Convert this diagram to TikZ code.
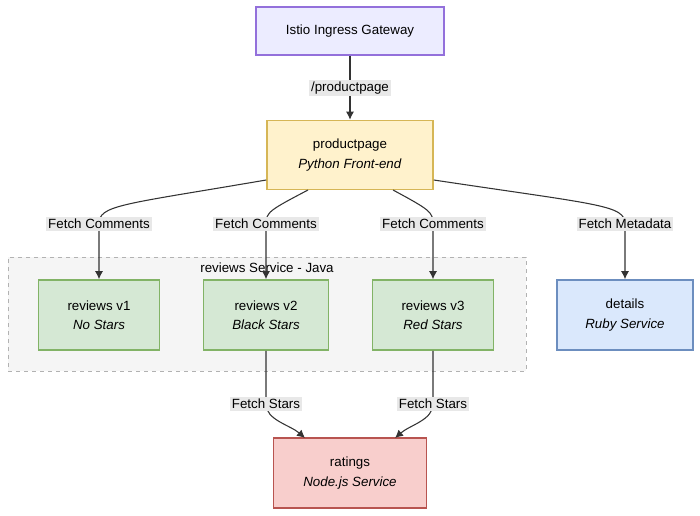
\documentclass[tikz,border=0pt]{standalone}
\usepackage{fontspec}
\setmainfont{Liberation Sans}
\begin{document}
\begin{tikzpicture}[x=0.75pt,y=-0.75pt,font=\fontsize{10}{11.5}\selectfont,
 box/.style={draw,line width=1.2pt,align=center,inner sep=0pt},
 lab/.style={fill=black!9,inner sep=1.5pt},
 edge/.style={draw=black!80,line width=0.8pt,-{Latex[length=6pt,width=6pt]}}]
\usetikzlibrary{arrows.meta}
\useasboundingbox (0,0) rectangle (700,515);
\definecolor{pur}{HTML}{9370DB}\definecolor{purf}{HTML}{ECECFF}
\definecolor{yel}{HTML}{D6B656}\definecolor{yelf}{HTML}{FFF2CC}
\definecolor{grn}{HTML}{82B366}\definecolor{grnf}{HTML}{D5E8D4}
\definecolor{blu}{HTML}{6C8EBF}\definecolor{bluf}{HTML}{DAE8FC}
\definecolor{red}{HTML}{B85450}\definecolor{redf}{HTML}{F8CECC}
\node[draw=black!30,dashed,fill=black!4,minimum width=518*0.75pt,minimum height=114*0.75pt,inner sep=0pt] (cl) at (267,314) {};
\node (cll) at (267,268) {reviews Service - Java};
\node[box,draw=pur,fill=purf,minimum width=188*0.75pt,minimum height=48*0.75pt] (ig) at (350,31) {Istio Ingress Gateway};
\node[box,draw=yel,fill=yelf,minimum width=166*0.75pt,minimum height=69*0.75pt] (pp) at (350,155) {productpage\\[3pt]\textit{Python Front-end}};
\node[box,draw=grn,fill=grnf,minimum width=121*0.75pt,minimum height=70*0.75pt] (v1) at (99,315) {reviews v1\\[3pt]\textit{No Stars}};
\node[box,draw=grn,fill=grnf,minimum width=125*0.75pt,minimum height=70*0.75pt] (v2) at (266,315) {reviews v2\\[3pt]\textit{Black Stars}};
\node[box,draw=grn,fill=grnf,minimum width=121*0.75pt,minimum height=70*0.75pt] (v3) at (433,315) {reviews v3\\[3pt]\textit{Red Stars}};
\node[box,draw=blu,fill=bluf,minimum width=136*0.75pt,minimum height=70*0.75pt] (dt) at (625,315) {details\\[3pt]\textit{Ruby Service}};
\node[box,draw=red,fill=redf,minimum width=153*0.75pt,minimum height=70*0.75pt] (rt) at (350,473) {ratings\\[3pt]\textit{Node.js Service}};
\coordinate (a1) at (99,224);\coordinate (a2) at (266,224);\coordinate (a3) at (433,224);\coordinate (a4) at (625,224);
\coordinate (b2) at (266,404);\coordinate (b3) at (433,404);
\draw[edge] (ig) -- (pp);
\draw[edge] (pp.west |- 0,180) .. controls (120,205) and (99,205) .. (a1) -- (v1);
\draw[edge] (308,190) .. controls (270,210) and (266,212) .. (a2) -- (v2);
\draw[edge] (393,190) .. controls (430,210) and (433,212) .. (a3) -- (v3);
\draw[edge] (pp.east |- 0,180) .. controls (600,205) and (625,205) .. (a4) -- (dt);
\draw[edge] (v2) -- (b2) .. controls (266,420) and (290,425) .. (305,438);
\draw[edge] (v3) -- (b3) .. controls (433,420) and (410,425) .. (395,438);
\node[lab] at (350,88) {/productpage};
\node[lab] at (a1) {Fetch Comments};
\node[lab] at (a2) {Fetch Comments};
\node[lab] at (a3) {Fetch Comments};
\node[lab] at (a4) {Fetch Metadata};
\node[lab] at (b2) {Fetch Stars};
\node[lab] at (b3) {Fetch Stars};
\end{tikzpicture}
\end{document}
